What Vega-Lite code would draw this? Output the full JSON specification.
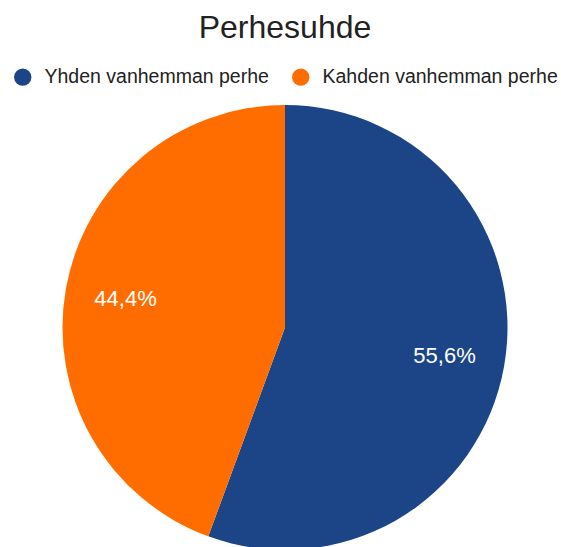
{
  "$schema": "https://vega.github.io/schema/vega-lite/v6.json",
  "autosize": "none",
  "width": 570,
  "height": 445,
  "padding": {"left": 0, "top": 105, "right": 0, "bottom": 0},
  "background": "white",
  "title": {"text": "Perhesuhde", "font": "Liberation Sans", "fontSize": 32, "fontWeight": "normal", "color": "#222222", "anchor": "middle", "offset": 22},
  "data": {"values": [
    {"kategoria": "Yhden vanhemman perhe", "osuus": 55.6, "jarjestys": 1, "nimio": "55,6%"},
    {"kategoria": "Kahden vanhemman perhe", "osuus": 44.4, "jarjestys": 2, "nimio": "44,4%"}
  ]},
  "encoding": {
    "theta": {"field": "osuus", "type": "quantitative", "stack": true},
    "order": {"field": "jarjestys", "type": "quantitative"},
    "color": {
      "field": "kategoria", "type": "nominal",
      "scale": {"domain": ["Yhden vanhemman perhe", "Kahden vanhemman perhe"], "range": ["#1c4587", "#ff6d01"]},
      "legend": {"title": null, "orient": "none", "direction": "horizontal", "legendX": 13, "legendY": -38, "symbolType": "circle", "symbolSize": 300, "symbolStrokeWidth": 0, "labelFont": "Liberation Sans", "labelFontSize": 19.5, "labelLimit": 400, "labelColor": "#222222", "columnPadding": 22, "labelOffset": 12}
    }
  },
  "layer": [
    {"mark": {"type": "arc", "outerRadius": 222.5, "stroke": null}},
    {"mark": {"type": "text", "radius": 162, "font": "Liberation Sans", "fontSize": 22, "fill": "white", "align": "center", "baseline": "middle"},
     "encoding": {"text": {"field": "nimio", "type": "nominal"}, "color": {"value": "white"}}}
  ]
}
